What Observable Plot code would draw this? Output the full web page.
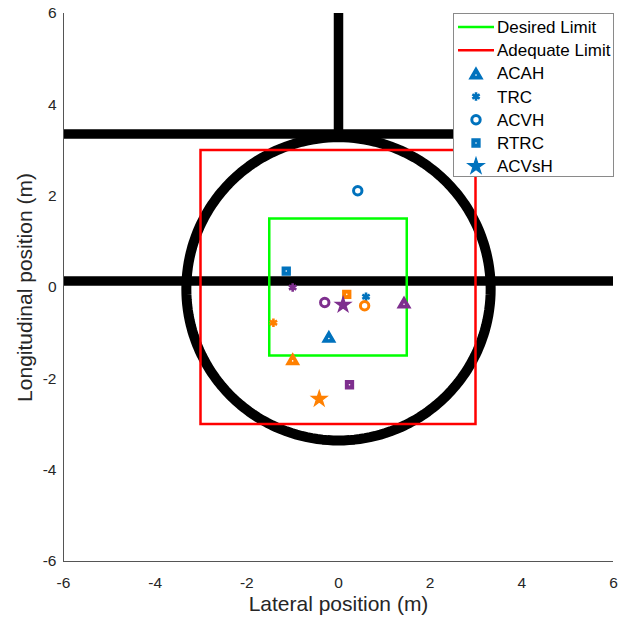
<!DOCTYPE html>
<html><head><meta charset="utf-8">
<script src="https://cdn.jsdelivr.net/npm/d3@7"></script>
<script src="https://cdn.jsdelivr.net/npm/@observablehq/plot@0.6"></script>
<style>
body{margin:0;background:#fff;}
#wrap{position:relative;width:628px;height:623px;font-family:"Liberation Sans",Arial,sans-serif;}
#legend{position:absolute;left:453px;top:13px;width:159px;height:162px;border:1px solid #8a8a8a;background:#fff;}
#legend svg{display:block;}
</style></head><body><div id="wrap"></div>
<script>
// ---- data ----
const xTicks = [-6, -4, -2, 0, 2, 4, 6];
const yTicks = [-6, -4, -2, 0, 2, 4, 6];
const methods = ["ACAH", "TRC", "ACVH", "RTRC", "ACVsH"];
const subjects = ["S1", "S2", "S3"];
// lateral / longitudinal positions per subject, in methods order (null = no point)
const latS1 = [-0.21, 0.60, 0.42, -1.14, null];
const lonS1 = [-1.08, -0.20, 2.12, 0.36, null];
const latS2 = [-1.00, -1.42, 0.57, 0.18, -0.42];
const lonS2 = [-1.57, -0.77, -0.40, -0.15, -2.44];
const latS3 = [1.43, -1.00, -0.30, 0.24, 0.10];
const lonS3 = [-0.33, 0.00, -0.33, -2.13, -0.38];
const desiredLimit = [1.5];
const adequateLimit = [3];
const roadLinesY = [3.36, 0.14];
const crossLineX = [0];
const circleCenter = [0, -0.03];
const circleRadius = 3.32;
const legendLabels = ["Desired Limit", "Adequate Limit", ...methods];

// ---- styles ----
const subjectColor = {S1: "#0072BD", S2: "#FF8000", S3: "#7E2F8E"};
const methodSymbol = {ACAH: "triangle", TRC: "asterisk", ACVH: "circle", RTRC: "square", ACVsH: "star"};

const lat = [latS1, latS2, latS3], lon = [lonS1, lonS2, lonS3];
const rows = [];
subjects.forEach((s, si) => methods.forEach((m, mi) => {
  if (lat[si][mi] != null) rows.push({subject: s, method: m, x: lat[si][mi], y: lon[si][mi], color: subjectColor[s]});
}));
const circlePts = d3.range(0, 360, 2).map(a => ({
  x: circleCenter[0] + circleRadius * Math.cos(a * Math.PI / 180),
  y: circleCenter[1] + circleRadius * Math.sin(a * Math.PI / 180)
}));
const byM = m => rows.filter(d => d.method === m);
const fmt = d => String(d);
const FONT = '"Liberation Sans", Arial, sans-serif';

const chart = Plot.plot({
  width: 628, height: 623,
  marginLeft: 63, marginRight: 15, marginTop: 13, marginBottom: 62,
  style: {fontFamily: FONT, fontSize: "15px", color: "#262626", background: "#fff"},
  x: {domain: [-6, 6], axis: null},
  y: {domain: [-6, 6], axis: null},
  color: {type: "identity"},
  marks: [
    Plot.text(xTicks, {x: d => d, text: fmt, frameAnchor: "bottom", dy: 22, fontSize: 15.5, fill: "#262626", textAnchor: "middle", lineAnchor: "middle"}),
    Plot.text(yTicks, {y: d => d, text: fmt, frameAnchor: "left", dx: -7, fontSize: 15.5, fill: "#262626", textAnchor: "end", lineAnchor: "middle"}),
    Plot.ruleY(roadLinesY, {stroke: "black", strokeWidth: 9.5}),
    Plot.ruleX(crossLineX, {y1: roadLinesY[0], y2: 6, stroke: "black", strokeWidth: 9.5}),
    Plot.line(circlePts, {x: "x", y: "y", curve: "linear-closed", stroke: "black", strokeWidth: 10}),
    Plot.rect(adequateLimit, {x1: d => -d, x2: d => d, y1: d => -d, y2: d => d, fill: "none", stroke: "#FF0000", strokeWidth: 2.5}),
    Plot.rect(desiredLimit, {x1: d => -d, x2: d => d, y1: d => -d, y2: d => d, fill: "none", stroke: "#00FF00", strokeWidth: 2.5}),
    Plot.ruleX([-6], {stroke: "#555", strokeWidth: 1}),
    Plot.ruleY([-6], {stroke: "#555", strokeWidth: 1}),
    Plot.dot(byM("ACAH"), {x: "x", y: "y", symbol: "triangle", r: 4.6, fill: "color", stroke: "color", strokeWidth: 1.5, dy: 1.7}),
    Plot.dot(byM("ACAH"), {x: "x", y: "y", r: 0.8, fill: "white", dy: 1.7}),
    Plot.dot(byM("TRC"), {x: "x", y: "y", symbol: "asterisk", r: 4, stroke: "color", strokeWidth: 2.6}),
    Plot.dot(byM("ACVH"), {x: "x", y: "y", symbol: "circle", r: 4.2, fill: "none", stroke: "color", strokeWidth: 3}),
    Plot.dot(byM("RTRC"), {x: "x", y: "y", symbol: "square", r: 4.4, fill: "color", stroke: "color", strokeWidth: 1.5}),
    Plot.dot(byM("RTRC"), {x: "x", y: "y", r: 0.8, fill: "white"}),
    Plot.dot(byM("ACVsH"), {x: "x", y: "y", symbol: "star", r: 4.9, fill: "color", stroke: "color", strokeWidth: 1.2}),
    Plot.text(["Lateral position (m)"], {frameAnchor: "bottom", dy: 49, fontSize: 21, fill: "#262626", textAnchor: "middle"}),
    Plot.text(["Longitudinal position (m)"], {frameAnchor: "left", rotate: -90, dx: -38, fontSize: 21, fill: "#262626", textAnchor: "middle"})
  ]
});
const wrap = document.getElementById("wrap");
wrap.appendChild(chart);

// ---- legend ----
const lg = d3.select(wrap).append("div").attr("id", "legend");
const svg = lg.append("svg").attr("width", 159).attr("height", 162).style("font-family", FONT);
const rowY = i => 13 + 23.2 * i;
const lineColors = ["#00FF00", "#FF0000"];
const sizeR = {triangle: 4.7, asterisk: 4, circle: 4.2, square: 4.4, star: 5.1};
legendLabels.forEach((lab, i) => {
  const y = rowY(i);
  if (i < 2) {
    svg.append("line").attr("x1", 4).attr("x2", 40).attr("y1", y).attr("y2", y)
      .attr("stroke", lineColors[i]).attr("stroke-width", 2.5);
  } else {
    const sym = methodSymbol[lab];
    const r = sizeR[sym];
    const type = {triangle: d3.symbolTriangle, asterisk: d3.symbolAsterisk, circle: d3.symbolCircle, square: d3.symbolSquare, star: d3.symbolStar}[sym];
    const path = d3.symbol(type, Math.PI * r * r)();
    const c = subjectColor.S1;
    const dy = sym === "triangle" ? 1.7 : 0;
    const p = svg.append("path").attr("d", path).attr("transform", `translate(22,${y + dy})`);
    if (sym === "circle") p.attr("fill", "none").attr("stroke", c).attr("stroke-width", 3);
    else if (sym === "asterisk") p.attr("fill", "none").attr("stroke", c).attr("stroke-width", 2.6);
    else p.attr("fill", c).attr("stroke", c).attr("stroke-width", sym === "star" ? 1.2 : 1.5);
    if (sym === "triangle" || sym === "square")
      svg.append("circle").attr("cx", 22).attr("cy", y + dy).attr("r", 0.8).attr("fill", "white");
  }
  svg.append("text").attr("x", 43).attr("y", y).attr("dy", "0.35em")
    .attr("font-size", 17).attr("fill", "#000").text(lab);
});
</script>
</body></html>
